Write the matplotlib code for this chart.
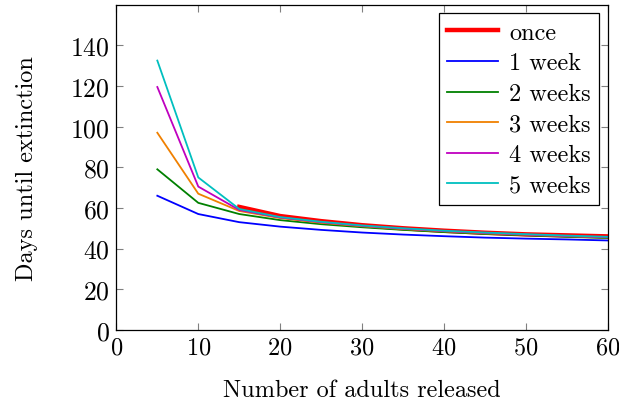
import matplotlib.pyplot as plt

# adults released per batch
x_all = [5, 10, 15, 20, 25, 30, 35, 40, 45, 50, 55, 60]
x_once = [15, 20, 25, 30, 35, 40, 45, 50, 55, 60]

once = [60.5, 56, 53.5, 51.5, 50, 48.8, 47.8, 47, 46.5, 46]
week1 = [66, 57, 53, 50.8, 49.2, 47.9, 46.9, 46.1, 45.4, 44.9, 44.5, 44]
week2 = [79, 62.5, 57, 54, 52, 50.5, 49.2, 48.1, 47.2, 46.5, 45.8, 45.2]
week3 = [97, 67, 58.5, 55, 52.7, 51, 49.6, 48.5, 47.5, 46.8, 46.1, 45.5]
week4 = [119.5, 70.5, 59, 55.3, 53, 51.2, 49.8, 48.6, 47.7, 46.9, 46.2, 45.6]
week5 = [132.5, 75, 59.5, 55.5, 53.2, 51.4, 50, 48.8, 47.9, 47.1, 46.4, 45.8]

series = [(week1, "1 week", "#0000ff"), (week2, "2 weeks", "#008000"),
          (week3, "3 weeks", "#f08000"), (week4, "4 weeks", "#bf00bf"),
          (week5, "5 weeks", "#00bfbf")]

plt.rcParams['font.family'] = 'cmr10'
plt.rcParams['axes.formatter.use_mathtext'] = True
plt.rcParams['mathtext.fontset'] = 'cm'

fs = 17.5
fig = plt.figure(figsize=(6.19, 4.06), dpi=100)
ax = fig.add_axes([0.188, 0.185, 0.794, 0.801])

ax.plot(x_once, once, color='red', lw=3.2, label='once')
for vals, name, col in series:
    ax.plot(x_all, vals, color=col, lw=1.3, label=name)

ax.set_xlim(0, 60)
ax.set_ylim(0, 160)
ax.set_xticks(range(0, 61, 10))
ax.set_yticks(range(0, 141, 20))
ax.tick_params(direction='in', top=True, right=True, labelsize=fs,
               color='#808080', length=5, width=0.8, pad=5)
ax.tick_params(axis='y', labelsize=18.5)
for s in ax.spines.values():
    s.set_linewidth(0.9)
ax.set_xlabel('Number of adults released', fontsize=fs, labelpad=14)
ax.set_ylabel('Days until extinction', fontsize=fs, labelpad=23)

leg = ax.legend(loc='upper right', fontsize=fs, fancybox=False, framealpha=1,
                edgecolor='black', handlelength=2.1, borderaxespad=0.35,
                labelspacing=0.35, handletextpad=0.45, borderpad=0.35)
leg.get_frame().set_linewidth(0.9)

fig.savefig('out.png', dpi=100)
